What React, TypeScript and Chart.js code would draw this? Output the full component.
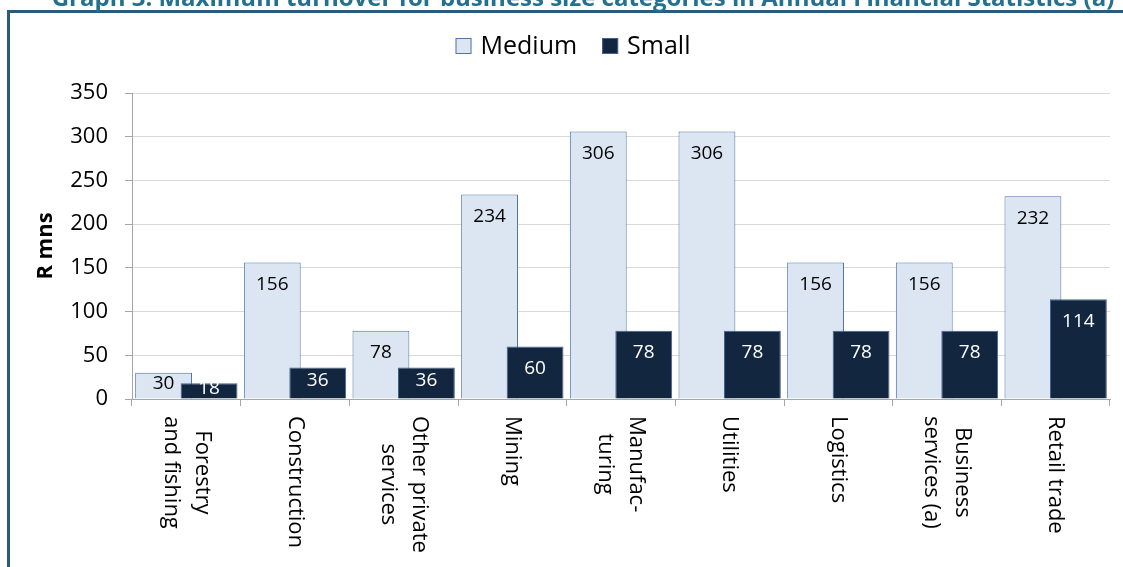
import React, { useEffect, useRef } from "react";
import { Chart, registerables } from "chart.js";

Chart.register(...registerables);

const TITLE = "Graph 3: Maximum turnover for business size categories in Annual Financial Statistics (a)";
const categories: string[][] = [
  ["Forestry", "and fishing"],
  ["Construction"],
  ["Other private", "services"],
  ["Mining"],
  ["Manufac-", "turing"],
  ["Utilities"],
  ["Logistics"],
  ["Business", "services (a)"],
  ["Retail trade"],
];
const mediumValues = [30, 156, 78, 234, 306, 306, 156, 156, 232];
const smallValues = [18, 36, 36, 60, 78, 78, 78, 78, 114];
const seriesNames = ["Medium", "Small"];
const yTicks = [0, 50, 100, 150, 200, 250, 300, 350];
const yTitle = "R mns";

const FONT = "'Open Sans', 'DejaVu Sans', sans-serif";
const W = 1123;
const H = 567;

const framePlugin = {
  id: "frame",
  beforeDraw(chart: any) {
    const ctx = chart.ctx;
    ctx.save();
    ctx.fillStyle = "#ffffff";
    ctx.fillRect(0, 0, W, H);
    ctx.fillStyle = "#2A5B78";
    ctx.fillRect(7, 10, W - 7, 3);
    ctx.fillRect(7, 10, 3, H - 10);
    ctx.font = `bold 24px ${FONT}`;
    ctx.fillStyle = "#23708F";
    ctx.textAlign = "center";
    ctx.textBaseline = "alphabetic";
    ctx.fillText(TITLE, 583, 6, 1068);
    ctx.restore();
  },
};

const labelsPlugin = {
  id: "customLabels",
  beforeDatasetDraw(chart: any, args: any) {
    // draw the second series later so that it sits on top of the first
    if (args.index === 1) return false;
    return true;
  },
  afterDatasetsDraw(chart: any) {
    const meta1 = chart.getDatasetMeta(1);
    if (meta1 && !meta1.hidden) meta1.controller.draw();
    const ctx = chart.ctx;
    ctx.save();
    ctx.font = `19px ${FONT}`;
    ctx.textAlign = "center";
    ctx.textBaseline = "middle";
    chart.data.datasets.forEach((ds: any, di: number) => {
      const meta = chart.getDatasetMeta(di);
      ctx.fillStyle = di === 0 ? "#000000" : "#ffffff";
      meta.data.forEach((el: any, i: number) => {
        const top = el.y;
        const base = el.base;
        const h = base - top;
        const cy = h < 44 ? (top + base) / 2 - 2 : top + 22;
        ctx.fillText(String(ds.data[i]), el.x, cy);
      });
    });
    ctx.restore();
  },
  afterDraw(chart: any) {
    const ctx = chart.ctx;
    const xs = chart.scales.x;
    ctx.save();
    ctx.font = `22px ${FONT}`;
    ctx.fillStyle = "#000000";
    ctx.textAlign = "center";
    ctx.textBaseline = "middle";
    const pitch = 31;
    const yTop = xs.top + 17;
    categories.forEach((lines, i) => {
      const cx = xs.getPixelForValue(i);
      const wmax = Math.max(...lines.map((l) => ctx.measureText(l).width));
      ctx.save();
      ctx.translate(cx, yTop);
      ctx.rotate(Math.PI / 2);
      lines.forEach((l, k) => {
        const ly = (k - (lines.length - 1) / 2) * pitch;
        ctx.fillText(l, wmax / 2, ly);
      });
      ctx.restore();
    });
    ctx.font = `25px ${FONT}`;
    ctx.textAlign = "left";
    const box = 16;
    const gap = 9;
    const spacing = 25;
    const items = chart.data.datasets.map((ds: any) => ({
      text: ds.label,
      bg: ds.backgroundColor,
      bd: ds.borderColor,
      w: ctx.measureText(ds.label).width,
    }));
    const total = items.reduce((s: number, it: any) => s + box + gap + it.w, 0) + spacing * (items.length - 1);
    let x = 573 - total / 2;
    const cy = 46;
    items.forEach((it: any) => {
      ctx.fillStyle = it.bg;
      ctx.fillRect(x, cy - box / 2, box, box);
      ctx.strokeStyle = it.bd;
      ctx.lineWidth = 1;
      ctx.strokeRect(x + 0.5, cy - box / 2 + 0.5, box - 1, box - 1);
      ctx.fillStyle = "#000000";
      ctx.fillText(it.text, x + box + gap, cy + 1);
      x += box + gap + it.w + spacing;
    });
    ctx.restore();
  },
};

export default function App() {
  const ref = useRef<HTMLCanvasElement | null>(null);
  useEffect(() => {
    if (!ref.current) return;
    const chart = new Chart(ref.current, {
      type: "bar",
      data: {
        labels: categories,
        datasets: [
          {
            label: seriesNames[0],
            data: mediumValues,
            backgroundColor: "#DCE6F2",
            borderColor: "#4F74A8",
            borderWidth: 1,
            categoryPercentage: 0.837,
            barPercentage: 1.25,
          },
          {
            label: seriesNames[1],
            data: smallValues,
            backgroundColor: "#13263F",
            borderColor: "#41638F",
            borderWidth: 1,
            categoryPercentage: 0.837,
            barPercentage: 1.25,
          },
        ],
      },
      options: {
        responsive: false,
        animation: false,
        devicePixelRatio: 1,
        layout: { padding: { left: 20, right: 13, top: 93, bottom: 0 } },
        plugins: {
          legend: { display: false },
          tooltip: { enabled: false },
          title: { display: false },
        },
        scales: {
          x: {
            type: "category",
            grid: {
              display: true,
              drawOnChartArea: false,
              drawTicks: true,
              tickLength: 7,
              color: "#A6A6A6",
              offset: true,
            },
            border: { color: "#A6A6A6", width: 1 },
            ticks: { display: false },
            afterFit: (scale: any) => {
              scale.height = H - 399;
            },
          },
          y: {
            min: 0,
            max: 350,
            afterBuildTicks: (scale: any) => {
              scale.ticks = yTicks.map((v) => ({ value: v }));
            },
            ticks: {
              font: { family: FONT, size: 22 },
              color: "#000000",
              padding: 17,
            },
            grid: { color: "#D9D9D9", tickLength: 7, tickColor: "#A6A6A6" },
            border: { color: "#A6A6A6", width: 1 },
            title: {
              display: true,
              text: yTitle,
              font: { family: FONT, size: 22, weight: "bold" },
              color: "#000000",
              padding: { top: 13, bottom: 0 },
            },
            afterFit: (scale: any) => {
              scale.width = 132 - 20;
            },
          },
        },
      },
      plugins: [framePlugin, labelsPlugin],
    } as any);
    return () => chart.destroy();
  }, []);
  return (
    <div style={{ position: "absolute", left: 0, top: 0, width: W, height: H, overflow: "hidden", background: "#fff" }}>
      <canvas ref={ref} width={W} height={H} style={{ display: "block", width: W, height: H }} />
    </div>
  );
}
